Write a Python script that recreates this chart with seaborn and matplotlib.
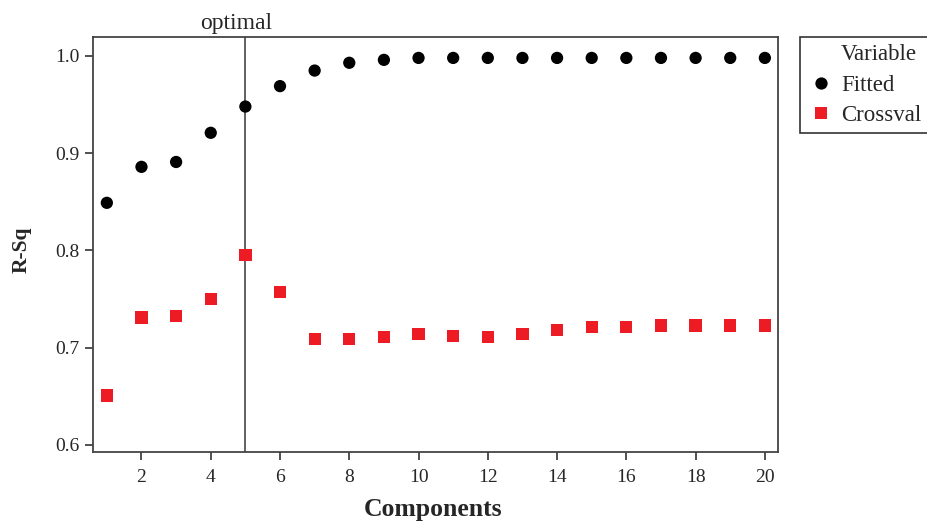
import matplotlib
matplotlib.use("Agg")
import matplotlib.pyplot as plt
from matplotlib.lines import Line2D
import seaborn as sns
import pandas as pd

components = list(range(1, 21))
fitted = [0.849, 0.886, 0.891, 0.921, 0.948, 0.969, 0.985, 0.993, 0.996, 0.998,
          0.998, 0.998, 0.998, 0.998, 0.998, 0.998, 0.998, 0.998, 0.998, 0.998]
crossval = [0.651, 0.731, 0.733, 0.750, 0.795, 0.757, 0.709, 0.709, 0.711, 0.714,
            0.712, 0.711, 0.714, 0.718, 0.721, 0.721, 0.723, 0.723, 0.723, 0.723]
optimal = 5
y_ticks = [0.6, 0.7, 0.8, 0.9, 1.0]
x_ticks = [2, 4, 6, 8, 10, 12, 14, 16, 18, 20]

df = pd.DataFrame({
    "Components": components * 2,
    "R-Sq": fitted + crossval,
    "Variable": ["Fitted"] * len(components) + ["Crossval"] * len(components),
})

sns.set_style("white")
plt.rcParams["font.family"] = ["Liberation Serif", "DejaVu Serif"]

fig = plt.figure(figsize=(9.28, 5.22), dpi=100)
ax = fig.add_axes([0.1002, 0.1341, 0.7382, 0.795])

sns.scatterplot(data=df, x="Components", y="R-Sq", hue="Variable", style="Variable",
                palette={"Fitted": "black", "Crossval": "#ED1C24"},
                markers={"Fitted": "o", "Crossval": "s"},
                s=78, linewidth=0, ax=ax, legend=True)

ax.axvline(optimal, color="#555555", lw=1.3, zorder=0)
ax.text(optimal - 0.26, 1.0225, "optimal", ha="center", va="bottom", fontsize=17, clip_on=False)

ax.set_xlim(0.6, 20.38)
ax.set_ylim(0.5928, 1.0195)
ax.set_xticks(x_ticks)
ax.set_yticks(y_ticks)
ax.set_yticklabels([f"{v:.1f}" for v in y_ticks])
ax.tick_params(axis="both", direction="out", length=6, width=1.2, color="#333333",
               labelsize=14, left=True, bottom=True, pad=3.5)
ax.tick_params(axis="x", pad=6)
for sp in ax.spines.values():
    sp.set_color("#444444")
    sp.set_linewidth(1.3)

ax.set_xlabel("Components", fontsize=18.5, fontweight="bold")
ax.set_ylabel("R-Sq", fontsize=15.5, fontweight="bold")
ax.xaxis.set_label_coords(0.496, -0.111)
ax.yaxis.set_label_coords(-0.089, 0.487)

handles, labels = ax.get_legend_handles_labels()
ax.get_legend().remove()
title_handle = Line2D([], [], linestyle="none", marker=None)
leg = fig.legend([title_handle] + handles, ["Variable"] + labels, loc="upper left",
                 bbox_to_anchor=(0.862, 0.929), frameon=True, fancybox=False,
                 fontsize=16.5, handletextpad=0.3, borderpad=0.3,
                 labelspacing=0.42, handlelength=1.2, borderaxespad=0.0)
leg.get_frame().set_edgecolor("black")
leg.get_frame().set_linewidth(1.2)

fig.savefig("out.png", dpi=100)
